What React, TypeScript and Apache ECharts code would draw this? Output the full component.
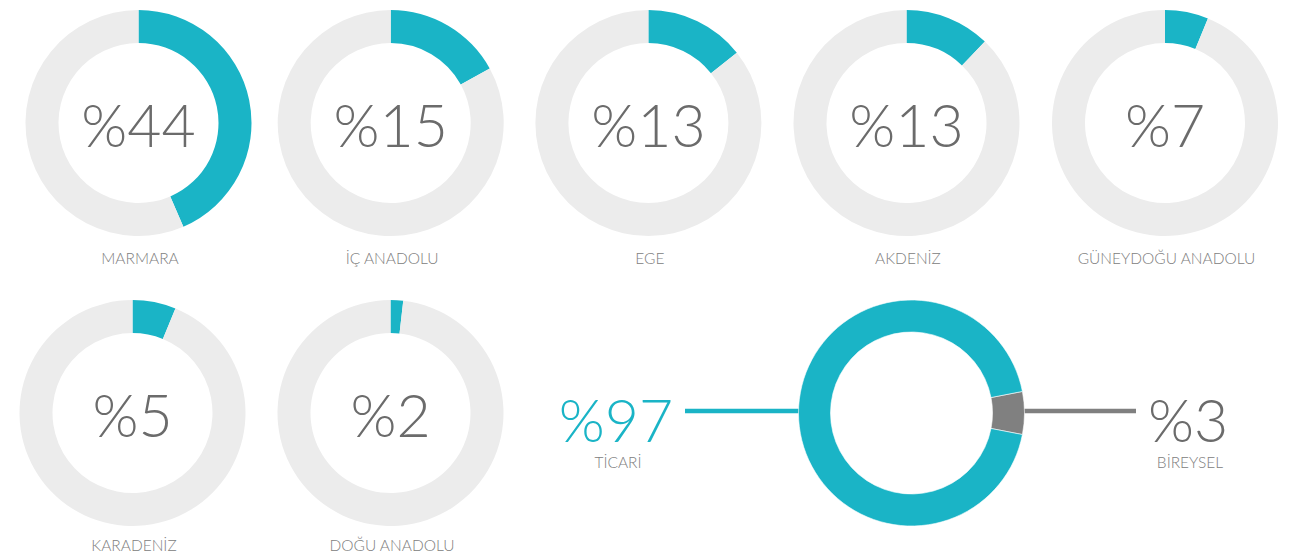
import React, { useEffect, useRef } from "react";
import * as echarts from "echarts";

// Regions (labels as printed, and the arc share as drawn in the picture)
const regionNames = ["MARMARA", "İÇ ANADOLU", "EGE", "AKDENİZ", "GÜNEYDOĞU ANADOLU", "KARADENİZ", "DOĞU ANADOLU"];
const regionPct = [44, 15, 13, 13, 7, 5, 2];
const regionArc = [43.5, 17, 14.3, 12.2, 6.2, 6.2, 1.8];

// Customer type split
const typeNames = ["TİCARİ", "BİREYSEL"];
const typePct = [97, 3];

const TEAL = "#1ab4c6";
const RING = "#ececec";
const GRAY = "#808080";
const TEXT = "#6b6b6b";
const LABEL = "#808080";
const FONT = "Lato, 'Open Sans', sans-serif";
const NUM_FONT = `300 59px ${FONT}`;
const LBL_FONT = `300 15.5px ${FONT}`;

// layout (positions only)
const centers: [number, number][] = [
  [138.5, 123],
  [390.7, 123],
  [648.4, 123],
  [906.5, 123],
  [1165, 123],
  [132.5, 413],
  [390.5, 413],
];
const labelY = [258, 258, 258, 258, 258, 545, 545];
const BIG: [number, number] = [911.5, 413];

export default function App() {
  const ref = useRef<HTMLDivElement>(null);
  useEffect(() => {
    if (!ref.current) return;
    const chart = echarts.init(ref.current, null, { renderer: "svg" });
    const series: any[] = regionNames.map((name, i) => ({
      type: "pie",
      name,
      radius: [80, 113],
      center: centers[i],
      startAngle: 90,
      clockwise: true,
      silent: true,
      label: { show: false },
      labelLine: { show: false },
      emphasis: { disabled: true },
      data: [
        { value: regionArc[i], name, itemStyle: { color: TEAL } },
        { value: 100 - regionArc[i], name: "", itemStyle: { color: RING } },
      ],
    }));
    series.push({
      type: "pie",
      name: "type",
      radius: [81, 113],
      center: BIG,
      startAngle: 11,
      clockwise: true,
      minAngle: 22,
      silent: true,
      label: { show: false },
      labelLine: { show: false },
      emphasis: { disabled: true },
      itemStyle: { borderColor: "#ffffff", borderWidth: 0.6 },
      data: [
        { value: typePct[1], name: typeNames[1], itemStyle: { color: GRAY } },
        { value: typePct[0], name: typeNames[0], itemStyle: { color: TEAL } },
      ],
    });

    const graphics: any[] = [];
    regionNames.forEach((name, i) => {
      graphics.push({
        type: "text",
        x: centers[i][0],
        y: centers[i][1] + 1,
        style: {
          text: `%${regionPct[i]}`,
          fill: TEXT,
          font: NUM_FONT,
          align: "center",
          verticalAlign: "middle",
        },
      });
      graphics.push({
        type: "text",
        x: centers[i][0] + 1.5,
        y: labelY[i],
        style: {
          text: name,
          fill: LABEL,
          font: LBL_FONT,
          align: "center",
          verticalAlign: "middle",
        },
      });
    });
    // connector lines
    graphics.push({
      type: "line",
      shape: { x1: 685, y1: 411, x2: BIG[0] - 112, y2: 411 },
      style: { stroke: TEAL, lineWidth: 4.5 },
    });
    graphics.push({
      type: "line",
      shape: { x1: BIG[0] + 111, y1: 411, x2: 1136, y2: 411 },
      style: { stroke: GRAY, lineWidth: 4.5 },
    });
    graphics.push({
      type: "text",
      x: 616,
      y: 419,
      style: { text: `%${typePct[0]}`, fill: TEAL, font: NUM_FONT, align: "center", verticalAlign: "middle" },
    });
    graphics.push({
      type: "text",
      x: 618,
      y: 462,
      style: { text: typeNames[0], fill: LABEL, font: LBL_FONT, align: "center", verticalAlign: "middle" },
    });
    graphics.push({
      type: "text",
      x: 1188,
      y: 419,
      style: { text: `%${typePct[1]}`, fill: TEXT, font: NUM_FONT, align: "center", verticalAlign: "middle" },
    });
    graphics.push({
      type: "text",
      x: 1190,
      y: 462,
      style: { text: typeNames[1], fill: LABEL, font: LBL_FONT, align: "center", verticalAlign: "middle" },
    });

    chart.setOption({
      animation: false,
      backgroundColor: "#ffffff",
      series,
      graphic: { elements: graphics },
    });
    return () => chart.dispose();
  }, []);
  return (
    <div
      ref={ref}
      style={{ position: "fixed", left: 0, top: 0, width: 1300, height: 560, background: "#fff" }}
    />
  );
}
